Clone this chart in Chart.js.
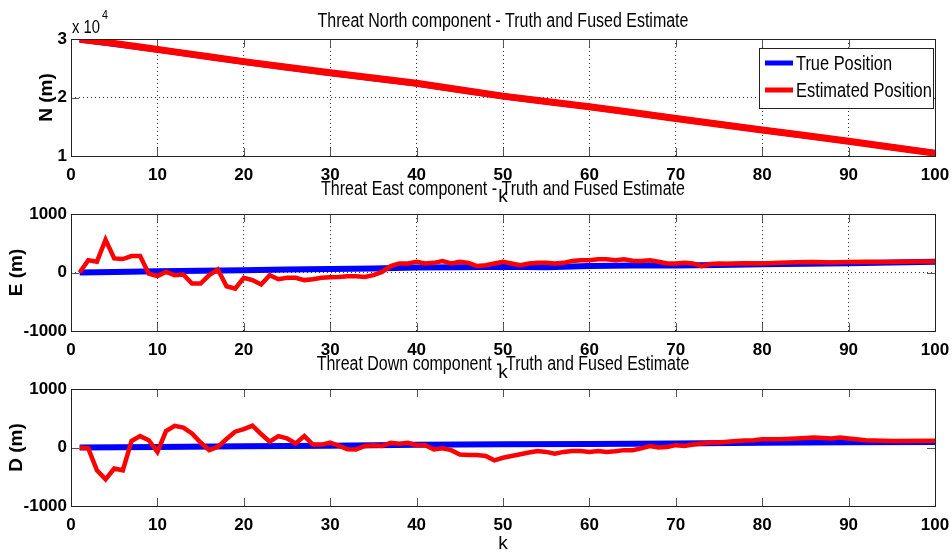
<!DOCTYPE html>
<html>
<head>
<meta charset="utf-8">
<title>Threat components - Truth and Fused Estimate</title>
<script src="https://cdn.jsdelivr.net/npm/chart.js@4.4.1/dist/chart.umd.min.js"></script>
<style>
  html, body { margin: 0; padding: 0; background: #fff; }
  #wrap { position: relative; width: 952px; height: 555px; overflow: hidden; }
  #wrap canvas { position: absolute; left: 0; top: 0; }
</style>
</head>
<body>
<div id="wrap">
  <canvas id="northChart" width="952" height="555"></canvas>
  <canvas id="eastChart" width="952" height="555"></canvas>
  <canvas id="downChart" width="952" height="555"></canvas>
</div>
<script>
// ---- data ----
const northTrueK = [1, 10, 20, 30, 40, 50, 60, 70, 80, 90, 100];
const northTrue  = [29900, 28200, 26100, 24200, 22400, 20200, 18400, 16400, 14450, 12500, 10500];
const northEstK  = [1, 3, 5, 8, 12, 16, 20, 25, 30, 35, 40, 45, 50, 55, 60, 65, 70, 75, 80, 85, 90, 95, 100];
const northEst   = [29950, 29600, 29250, 28620, 27800, 26960, 26130, 25180, 24230, 23320, 22420, 21330,
                    20230, 19320, 18420, 17420, 16420, 15440, 14460, 13490, 12520, 11510, 10480];

const eastTrueK = [1, 5, 10, 15, 20, 25, 30, 35, 40, 45, 50, 55, 60, 65, 70, 75, 80, 85, 90, 95, 100];
const eastTrue  = [0, 10, 20, 30, 40, 50, 60, 70, 85, 90, 100, 90, 110, 120, 120, 130, 140, 150, 160, 170, 185];
const eastEstK  = [1, 2, 3, 4, 5, 6, 7, 8, 9, 10, 11, 12, 13, 14, 15, 16, 17, 18, 19, 20,
                   21, 22, 23, 24, 25, 26, 27, 28, 29, 30, 31, 32, 33, 34, 35, 36, 37, 38, 39, 40,
                   41, 42, 43, 44, 45, 46, 47, 48, 49, 50, 51, 52, 53, 54, 55, 56, 57, 58, 59, 60,
                   61, 62, 63, 64, 65, 66, 67, 68, 69, 70, 71, 72, 73, 74, 75, 76, 78, 80, 82, 84,
                   86, 88, 90, 92, 94, 96, 98, 100];
const eastEst   = [0, 210, 185, 560, 240, 230, 280, 280, -20, -60, 10, -45, -35, -190, -190, -45, 50, -235, -275, -90,
                   -130, -205, -45, -115, -90, -90, -130, -115, -90, -80, -75, -65, -65, -75, -45, 10, 110, 155, 155, 185,
                   155, 165, 195, 155, 185, 165, 110, 125, 155, 185, 155, 125, 155, 165, 165, 155, 165, 195, 210, 210,
                   225, 225, 210, 225, 200, 195, 210, 185, 155, 155, 165, 155, 110, 145, 155, 150, 160, 155, 165, 175,
                   180, 170, 180, 185, 180, 185, 190, 190];

const downTrueK = [1, 10, 20, 30, 40, 50, 60, 70, 80, 90, 100];
const downTrue  = [0, 10, 20, 30, 45, 55, 60, 70, 80, 90, 95];
const downEstK  = [1, 2, 3, 4, 5, 6, 7, 8, 9, 10, 11, 12, 13, 14, 15, 16, 17, 18, 19, 20,
                   21, 22, 23, 24, 25, 26, 27, 28, 29, 30, 31, 32, 33, 34, 35, 36, 37, 38, 39, 40,
                   41, 42, 43, 44, 45, 46, 47, 48, 49, 50, 51, 52, 53, 54, 55, 56, 57, 58, 59, 60,
                   61, 62, 63, 64, 65, 66, 67, 68, 69, 70, 71, 72, 73, 74, 75, 76, 77, 78, 79, 80,
                   82, 84, 86, 88, 89, 90, 92, 95, 100];
const downEst   = [0, -15, -390, -545, -360, -390, 110, 195, 125, -75, 280, 370, 340, 240, 85, -45, 10, 145, 270, 315,
                   375, 230, 100, 195, 155, 70, 195, 50, 50, 85, 30, -30, -35, 25, 40, 25, 80, 65, 80, 40,
                   40, -35, -15, -45, -120, -130, -130, -145, -220, -175, -145, -115, -85, -60, -75, -105, -75, -60, -60, -75,
                   -60, -75, -65, -45, -45, -15, 25, 0, 10, 40, 25, 50, 70, 85, 85, 100, 110, 120, 125, 140,
                   140, 155, 170, 155, 170, 155, 125, 110, 115];

const xTicks = [0, 10, 20, 30, 40, 50, 60, 70, 80, 90, 100];

const FONT = "'Liberation Sans', Arial, sans-serif";

function pts(ks, vals) {
    return ks.map((k, i) => ({ x: k, y: vals[i] }));
}

// squeezed text, the figure uses a narrow face
function narrowText(ctx, text, x, y, size, align) {
    ctx.save();
    ctx.translate(x, y);
    ctx.scale(0.82, 1);
    ctx.font = size + 'px ' + FONT;
    ctx.textAlign = align;
    ctx.fillText(text, 0, 0);
    ctx.restore();
}

// matlab style box, inward ticks, title, legend
const matlabAxes = {
    id: 'matlabAxes',
    beforeDatasetsDraw(chart) {
        const { ctx, chartArea: a, scales: { x, y } } = chart;
        ctx.save();
        ctx.strokeStyle = '#555';
        ctx.lineWidth = 1;
        ctx.beginPath();
        x.ticks.forEach(t => {
            const px = Math.round(x.getPixelForValue(t.value)) + 0.5;
            ctx.moveTo(px, a.bottom); ctx.lineTo(px, a.bottom - 8);
            ctx.moveTo(px, a.top); ctx.lineTo(px, a.top + 8);
        });
        y.ticks.forEach(t => {
            const py = Math.round(y.getPixelForValue(t.value)) + 0.5;
            ctx.moveTo(a.left, py); ctx.lineTo(a.left + 8, py);
            ctx.moveTo(a.right, py); ctx.lineTo(a.right - 8, py);
        });
        ctx.stroke();
        ctx.restore();
    },
    afterDatasetsDraw(chart, args, opts) {
        const { ctx, chartArea: a } = chart;
        ctx.save();
        ctx.strokeStyle = '#222';
        ctx.lineWidth = 1;
        ctx.strokeRect(Math.round(a.left) + 0.5, Math.round(a.top) + 0.5,
                       Math.round(a.right - a.left), Math.round(a.bottom - a.top));

        // title
        ctx.fillStyle = '#000';
        ctx.textBaseline = 'middle';
        narrowText(ctx, opts.title, (a.left + a.right) / 2, a.top - opts.titleGap, 19.5, 'center');

        if (opts.exponent) {
            ctx.textBaseline = 'alphabetic';
            narrowText(ctx, 'x 10', a.left + 1, a.top - 6, 18, 'left');
            narrowText(ctx, '4', a.left + 31, a.top - 20, 13, 'left');
        }

        if (opts.legend) {
            const bx = 759, by = 48, bw = 174, bh = 60;
            ctx.fillStyle = '#fff';
            ctx.fillRect(bx, by, bw, bh);
            ctx.strokeStyle = '#222';
            ctx.strokeRect(bx + 0.5, by + 0.5, bw, bh);
            ctx.textBaseline = 'middle';
            chart.data.datasets.forEach((ds, i) => {
                const ly = by + 15 + i * 27;
                ctx.strokeStyle = ds.borderColor;
                ctx.lineWidth = 5;
                ctx.beginPath();
                ctx.moveTo(bx + 6, ly); ctx.lineTo(bx + 34, ly);
                ctx.stroke();
                ctx.fillStyle = '#000';
                narrowText(ctx, ds.label, bx + 37, ly + 1, 20, 'left');
            });
        }
        ctx.restore();
    }
};

function buildChart(id, cfg) {
    const ctx = document.getElementById(id).getContext('2d');
    return new Chart(ctx, {
        type: 'line',
        data: {
            datasets: [
                {
                    label: 'True Position',
                    data: cfg.truth,
                    borderColor: '#0000ff',
                    borderWidth: cfg.blueWidth,
                    pointRadius: 0,
                    tension: 0,
                    order: 2
                },
                {
                    label: 'Estimated Position',
                    data: cfg.est,
                    borderColor: '#ff0000',
                    borderWidth: cfg.redWidth,
                    pointRadius: 0,
                    tension: 0,
                    order: 1
                }
            ]
        },
        options: {
            responsive: false,
            animation: false,
            layout: { padding: { left: 0, right: 17, top: cfg.top, bottom: cfg.bottom } },
            plugins: {
                legend: { display: false },
                tooltip: { enabled: false },
                matlabAxes: {
                    title: cfg.title,
                    titleGap: cfg.titleGap,
                    legend: !!cfg.legend,
                    exponent: !!cfg.exponent
                }
            },
            scales: {
                x: {
                    type: 'linear',
                    min: 0,
                    max: 100,
                    afterBuildTicks: s => { s.ticks = xTicks.map(v => ({ value: v })); },
                    afterFit: s => { s.height = cfg.xHeight; s.paddingLeft = 0; s.paddingRight = 0; },
                    ticks: {
                        color: '#000',
                        padding: 9,
                        maxRotation: 0,
                        font: { family: FONT, size: 17, weight: 'bold' }
                    },
                    grid: { display: cfg.grid, color: '#333', drawTicks: false },
                    border: { display: false, dash: [1, 3] },
                    title: {
                        display: true,
                        text: 'k',
                        color: '#000',
                        padding: 0,
                        font: { family: FONT, size: 19 }
                    }
                },
                y: {
                    min: cfg.yMin,
                    max: cfg.yMax,
                    afterBuildTicks: s => { s.ticks = cfg.yTicks.map(v => ({ value: v })); },
                    afterFit: s => { s.width = 71; s.paddingTop = 0; s.paddingBottom = 0; },
                    ticks: {
                        color: '#000',
                        padding: 4,
                        font: { family: FONT, size: 17, weight: 'bold' },
                        callback: cfg.yLabel
                    },
                    grid: { display: cfg.grid, color: '#333', drawTicks: false },
                    border: { display: false, dash: [1, 3] },
                    title: {
                        display: true,
                        text: cfg.yTitle,
                        color: '#000',
                        padding: { top: cfg.yTitlePad, bottom: 0 },
                        font: { family: FONT, size: 19, weight: 'bold' }
                    }
                }
            }
        },
        plugins: [matlabAxes]
    });
}

buildChart('northChart', {
    title: 'Threat North component - Truth and Fused Estimate',
    titleGap: 17,
    truth: pts(northTrueK, northTrue),
    est: pts(northEstK, northEst),
    blueWidth: 6, redWidth: 7,
    top: 39, bottom: 347, xHeight: 52,
    yMin: 10000, yMax: 30000, yTicks: [10000, 20000, 30000],
    yLabel: v => v / 10000,
    yTitle: 'N (m)', yTitlePad: 35,
    grid: true, legend: true, exponent: true
});

buildChart('eastChart', {
    title: 'Threat East component - Truth and Fused Estimate',
    titleGap: 24,
    truth: pts(eastTrueK, eastTrue),
    est: pts(eastEstK, eastEst),
    blueWidth: 6, redWidth: 4.5,
    top: 214, bottom: 171, xHeight: 53,
    yMin: -1000, yMax: 1000, yTicks: [-1000, 0, 1000],
    yLabel: v => v,
    yTitle: 'E (m)', yTitlePad: 5,
    grid: true
});

buildChart('downChart', {
    title: 'Threat Down component - Truth and Fused Estimate',
    titleGap: 24,
    truth: pts(downTrueK, downTrue),
    est: pts(downEstK, downEst),
    blueWidth: 6, redWidth: 4.5,
    top: 389, bottom: 0, xHeight: 49,
    yMin: -1000, yMax: 1000, yTicks: [-1000, 0, 1000],
    yLabel: v => v,
    yTitle: 'D (m)', yTitlePad: 5,
    grid: false
});
</script>
</body>
</html>
